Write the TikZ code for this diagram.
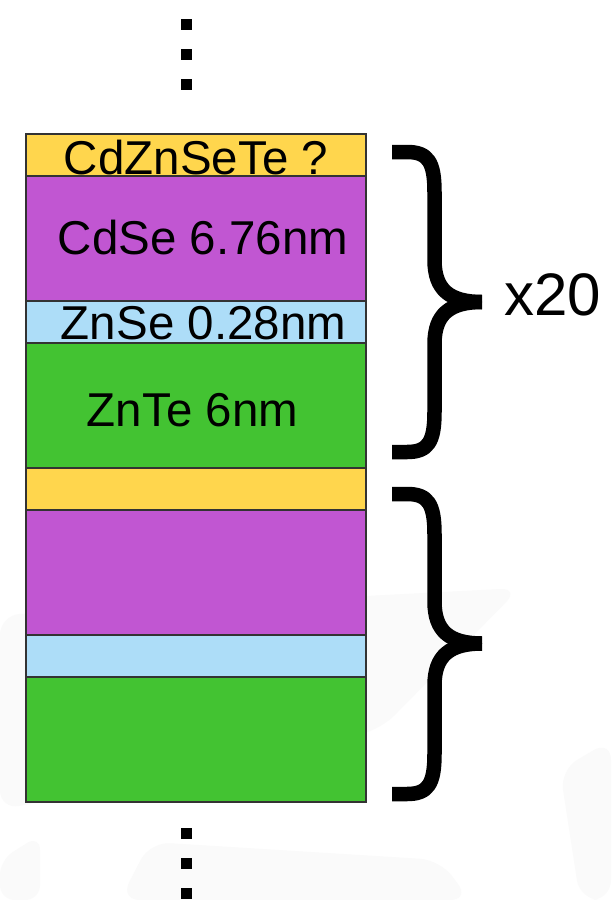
\documentclass[tikz,border=0pt]{standalone}
\usepackage{fontspec}
\setmainfont{Liberation Sans}
\definecolor{layyel}{HTML}{FFD64D}
\definecolor{laypur}{HTML}{C156D2}
\definecolor{layblu}{HTML}{ADDDF8}
\definecolor{laygrn}{HTML}{43C332}
\definecolor{wmark}{HTML}{FAFAFA}
\begin{document}
\begin{tikzpicture}[x=1pt,y=-1pt,
  layer/.style={draw=black!80,line width=1.1pt},
  lab/.style={anchor=base,inner sep=0pt,font=\fontsize{47.5}{52}\selectfont},
  dotsq/.style={fill=black},
  bracepart/.style={line width=14.5pt,line cap=butt,line join=round}]
\useasboundingbox (0,0) rectangle (611,900);
\fill[white] (0,0) rectangle (611,900);
% faint background watermark
\fill[wmark,rounded corners=20pt] (0,615) -- (520,588) -- (380,730) -- (0,810) -- cycle;
\fill[wmark,rounded corners=20pt] (150,842) -- (440,860) -- (470,900) -- (120,900) -- cycle;
\fill[wmark,rounded corners=20pt] (560,770) -- (611,740) -- (611,900) -- (580,900) -- cycle;
\fill[wmark,rounded corners=15pt] (0,860) -- (40,835) -- (40,900) -- (0,900) -- cycle;
% layers
\draw[layer,fill=layyel] (26,134) rectangle (366,176);
\draw[layer,fill=laypur] (26,176) rectangle (366,301);
\draw[layer,fill=layblu] (26,301) rectangle (366,343);
\draw[layer,fill=laygrn] (26,343) rectangle (366,468);
\draw[layer,fill=layyel] (26,468) rectangle (366,510);
\draw[layer,fill=laypur] (26,510) rectangle (366,635);
\draw[layer,fill=layblu] (26,635) rectangle (366,677);
\draw[layer,fill=laygrn] (26,677) rectangle (366,802);
% labels
\node[lab] (l1) at (196,174) {CdZnSeTe ?};
\node[lab] (l2) at (203,254) {CdSe 6.76nm};
\node[lab] (l3) at (203.5,339) {ZnSe 0.28nm};
\node[lab] (l4) at (192.5,426) {ZnTe 6nm};
\node[anchor=base,inner sep=0pt,font=\fontsize{60}{64}\selectfont] (rep) at (552.5,315) {x20};
% dots
\foreach \yy in {24.5,54.5,84.5,833.5,863.5,893.5}
  \fill[dotsq] (180.5,\yy-5.5) rectangle (191.5,\yy+5.5);
% braces
\foreach \t/\m/\b in {152/302/452, 494/643.5/794}{
  \draw[bracepart] (392,\t) -- (407,\t) .. controls (428,\t) and (434.5,\t+10) .. (434.5,\t+40)
     -- (434.5,\m-42) .. controls (434.5,\m-12) and (450,\m) .. (482,\m);
  \draw[bracepart] (482,\m) .. controls (450,\m) and (434.5,\m+12) .. (434.5,\m+42)
     -- (434.5,\b-40) .. controls (434.5,\b-10) and (428,\b) .. (407,\b) -- (392,\b);
}
\end{tikzpicture}
\end{document}
